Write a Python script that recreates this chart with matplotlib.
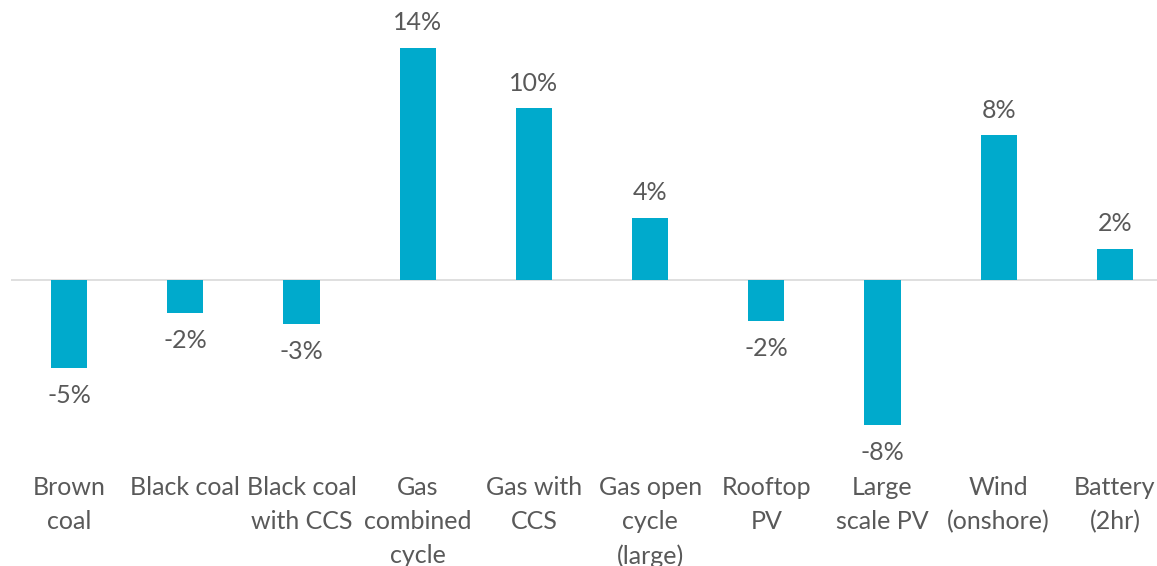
import matplotlib.pyplot as plt

categories = [
    "Brown\ncoal",
    "Black coal",
    "Black coal\nwith CCS",
    "Gas\ncombined\ncycle",
    "Gas with\nCCS",
    "Gas open\ncycle\n(large)",
    "Rooftop\nPV",
    "Large\nscale PV",
    "Wind\n(onshore)",
    "Battery\n(2hr)",
]
change_pct = [-5.1, -1.9, -2.56, 13.52, 10.0, 3.62, -2.37, -8.45, 8.42, 1.83]

BAR_COLOR = "#00aacc"
TEXT_COLOR = "#595959"

plt.rcParams["font.family"] = ["Lato", "DejaVu Sans"]

fig = plt.figure(figsize=(11.57, 5.66), dpi=100)
# axes spans a little past the right edge, as in the cropped original
ax = fig.add_axes([11 / 1157, 1 - 470 / 566, 1162 / 1157, 470 / 566])

x = range(len(categories))
ax.bar(x, change_pct, width=0.31, color=BAR_COLOR, zorder=2)
ax.axhline(0, color="#d9d9d9", lw=1.2, zorder=1)

for xi, v in zip(x, change_pct):
    off = 18 if v >= 0 else -20
    ax.annotate(f"{v:.0f}%", (xi, v), xytext=(0, off), textcoords="offset points",
                ha="center", va="center", fontsize=18, color=TEXT_COLOR)

ax.set_xlim(-0.5, len(categories) - 0.5)
ax.set_ylim(-(470 - 280) / 17.18, 280 / 17.18)
ax.set_xticks(list(x))
ax.set_xticklabels(categories, fontsize=18, color=TEXT_COLOR, linespacing=1.58)
ax.tick_params(axis="x", length=0, pad=4)
ax.set_yticks([])
for s in ax.spines.values():
    s.set_visible(False)

fig.savefig("out.png", dpi=100)
